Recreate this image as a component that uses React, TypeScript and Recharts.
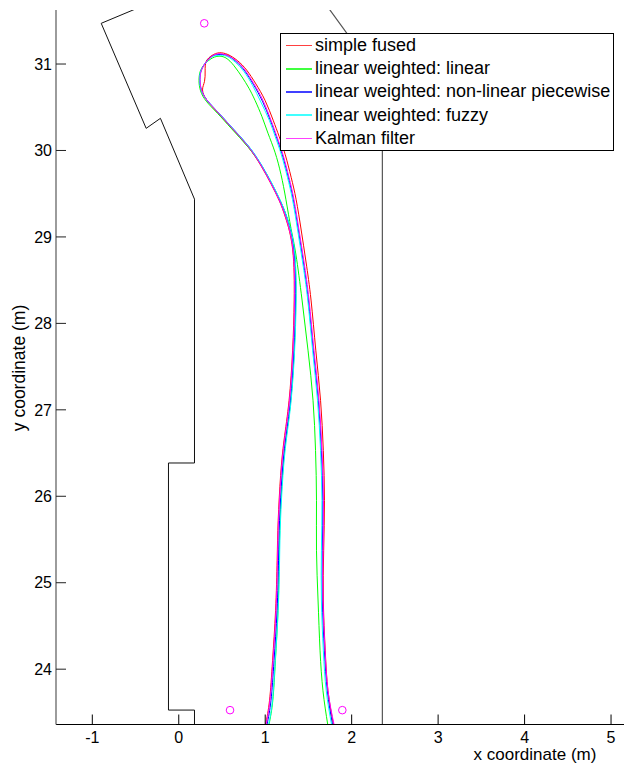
import React from 'react';
import { ComposedChart, Line, Scatter, XAxis, YAxis, Legend } from 'recharts';

const FONT = 'Arial, "Liberation Sans", Helvetica, sans-serif';

const xTicks = [-1, 0, 1, 2, 3, 4, 5];
const yTicks = [24, 25, 26, 27, 28, 29, 30, 31];
const xDomain: [number, number] = [-1.42, 5.15];
const yDomain: [number, number] = [23.36, 31.625];

const seriesNames = [
  'simple fused',
  'linear weighted: linear',
  'linear weighted: non-linear piecewise',
  'linear weighted: fuzzy',
  'Kalman filter',
];
const seriesColors = ['#ff0000', '#00ff00', '#0000ff', '#00ffff', '#ff00ff'];

const simpleFused: [number, number][] = [
  [1.004, 23.36], [1.050, 23.64], [1.085, 24.10], [1.120, 24.68], [1.138, 25.26], [1.150, 25.72],
  [1.178, 26.24], [1.218, 26.65], [1.276, 27.11], [1.317, 27.69], [1.335, 28.27], [1.318, 28.85],
  [1.236, 29.22], [1.162, 29.42], [1.069, 29.61], [0.953, 29.82], [0.804, 30.04], [0.620, 30.25],
  [0.458, 30.43], [0.327, 30.58], [0.275, 30.70], [0.298, 30.80], [0.305, 30.92], [0.318, 31.03],
  [0.385, 31.10], [0.468, 31.13], [0.568, 31.11], [0.678, 31.04], [0.785, 30.93], [0.892, 30.77],
  [0.998, 30.58], [1.092, 30.35], [1.162, 30.16], [1.232, 29.95], [1.300, 29.69], [1.358, 29.43],
  [1.416, 29.08], [1.472, 28.71], [1.530, 28.27], [1.585, 27.69], [1.640, 27.11], [1.672, 26.53],
  [1.685, 25.95], [1.676, 25.37], [1.672, 24.80], [1.694, 24.22], [1.726, 23.75], [1.790, 23.36],
];

const linearWeighted: [number, number][] = [
  [1.044, 23.36], [1.088, 23.64], [1.118, 24.10], [1.148, 24.68], [1.162, 25.26], [1.172, 25.72],
  [1.200, 26.24], [1.238, 26.65], [1.296, 27.11], [1.336, 27.69], [1.354, 28.27], [1.336, 28.85],
  [1.253, 29.22], [1.169, 29.43], [1.075, 29.62], [0.955, 29.83], [0.801, 30.04], [0.612, 30.25],
  [0.448, 30.43], [0.318, 30.57], [0.252, 30.69], [0.234, 30.81], [0.250, 30.92], [0.300, 31.00],
  [0.372, 31.06], [0.454, 31.09], [0.546, 31.07], [0.639, 30.98], [0.732, 30.85], [0.812, 30.72],
  [0.882, 30.58], [0.963, 30.39], [1.032, 30.20], [1.113, 29.98], [1.183, 29.72], [1.240, 29.43],
  [1.298, 29.10], [1.356, 28.79], [1.426, 28.27], [1.495, 27.69], [1.553, 27.11], [1.582, 26.53],
  [1.593, 25.95], [1.593, 25.37], [1.611, 24.80], [1.634, 24.22], [1.668, 23.75], [1.723, 23.36],
];

const nonLinearPiecewise: [number, number][] = [
  [1.021, 23.36], [1.067, 23.64], [1.102, 24.10], [1.137, 24.68], [1.154, 25.26], [1.166, 25.72],
  [1.195, 26.24], [1.235, 26.65], [1.293, 27.11], [1.333, 27.69], [1.351, 28.27], [1.333, 28.85],
  [1.252, 29.22], [1.166, 29.43], [1.072, 29.62], [0.956, 29.83], [0.806, 30.05], [0.620, 30.26],
  [0.457, 30.44], [0.328, 30.58], [0.262, 30.70], [0.244, 30.82], [0.261, 30.93], [0.313, 31.02],
  [0.383, 31.09], [0.465, 31.11], [0.560, 31.10], [0.662, 31.03], [0.764, 30.92], [0.866, 30.76],
  [0.968, 30.57], [1.059, 30.35], [1.128, 30.16], [1.198, 29.95], [1.267, 29.69], [1.325, 29.43],
  [1.383, 29.08], [1.441, 28.71], [1.499, 28.27], [1.556, 27.69], [1.614, 27.11], [1.649, 26.53],
  [1.666, 25.95], [1.660, 25.37], [1.660, 24.80], [1.684, 24.22], [1.718, 23.75], [1.778, 23.36],
];

const fuzzy: [number, number][] = [
  [1.040, 23.36], [1.084, 23.64], [1.116, 24.10], [1.150, 24.68], [1.166, 25.26], [1.177, 25.72],
  [1.205, 26.24], [1.244, 26.65], [1.300, 27.11], [1.340, 27.69], [1.357, 28.27], [1.338, 28.85],
  [1.254, 29.22], [1.171, 29.43], [1.077, 29.62], [0.959, 29.83], [0.809, 30.05], [0.622, 30.26],
  [0.458, 30.44], [0.328, 30.58], [0.260, 30.70], [0.242, 30.82], [0.258, 30.93], [0.310, 31.01],
  [0.380, 31.08], [0.462, 31.10], [0.555, 31.09], [0.655, 31.02], [0.756, 30.91], [0.855, 30.75],
  [0.950, 30.56], [1.047, 30.35], [1.116, 30.16], [1.187, 29.95], [1.257, 29.69], [1.316, 29.43],
  [1.375, 29.08], [1.432, 28.71], [1.492, 28.27], [1.548, 27.69], [1.605, 27.11], [1.640, 26.53],
  [1.656, 25.95], [1.650, 25.37], [1.650, 24.80], [1.672, 24.22], [1.706, 23.75], [1.767, 23.36],
];

const kalman: [number, number][] = [
  [1.009, 23.36], [1.055, 23.64], [1.090, 24.10], [1.125, 24.68], [1.142, 25.26], [1.154, 25.72],
  [1.183, 26.24], [1.223, 26.65], [1.281, 27.11], [1.321, 27.69], [1.339, 28.27], [1.321, 28.85],
  [1.240, 29.22], [1.160, 29.43], [1.067, 29.62], [0.951, 29.83], [0.801, 30.05], [0.616, 30.26],
  [0.454, 30.44], [0.327, 30.58], [0.263, 30.70], [0.246, 30.82], [0.263, 30.93], [0.315, 31.02],
  [0.385, 31.09], [0.465, 31.12], [0.558, 31.10], [0.662, 31.04], [0.766, 30.93], [0.870, 30.77],
  [0.974, 30.58], [1.067, 30.35], [1.136, 30.16], [1.206, 29.95], [1.275, 29.69], [1.333, 29.43],
  [1.391, 29.08], [1.449, 28.71], [1.507, 28.27], [1.564, 27.69], [1.622, 27.11], [1.657, 26.53],
  [1.674, 25.95], [1.668, 25.37], [1.668, 24.80], [1.692, 24.22], [1.726, 23.75], [1.796, 23.36],
];

const leftWall: [number, number][] = [
  [-0.445, 31.66], [-0.897, 31.471], [-0.377, 30.256], [-0.212, 30.372], [0.182, 29.437],
  [0.182, 26.385], [-0.119, 26.385], [-0.119, 23.527], [0.182, 23.527], [0.182, 23.36],
];
const rightWall: [number, number][] = [
  [1.716, 31.67], [2.355, 30.79], [2.355, 23.36],
];
const anchors: [number, number][] = [
  [0.295, 31.471], [0.593, 23.526], [1.892, 23.526],
];

const toPts = (arr: [number, number][]) => arr.map(([x, y]) => ({ x, y }));
const seriesData = [simpleFused, linearWeighted, nonLinearPiecewise, fuzzy, kalman].map(toPts);

const XTick = (props: any) => {
  const { x, y, payload } = props;
  return (
    <g>
      <line x1={x} x2={x} y1={y} y2={y - 10} stroke="#000" strokeWidth={1} />
      <text x={x} y={y + 18.5} textAnchor="middle" fontSize={16} fontFamily={FONT} fill="#000">
        {payload.value}
      </text>
    </g>
  );
};

const YTick = (props: any) => {
  const { x, y, payload } = props;
  return (
    <g>
      <line x1={x} x2={x + 10} y1={y} y2={y} stroke="#222" strokeWidth={1} />
      <text x={x - 4} y={y + 5.7} textAnchor="end" fontSize={16} fontFamily={FONT} fill="#000">
        {payload.value}
      </text>
    </g>
  );
};

const renderLegend = () => (
  <div
    style={{
      boxSizing: 'border-box',
      width: 334,
      height: 118,
      border: '1px solid #000',
      background: '#fff',
    }}
  >
    {seriesNames.map((name, i) => (
      <div key={name} style={{ height: 23.2, display: 'flex', alignItems: 'center' }}>
        <div
          style={{
            width: 26,
            height: 1.5,
            marginLeft: 5,
            marginRight: 3,
            background: seriesColors[i],
            opacity: 0.75,
            flex: 'none',
          }}
        />
        <span
          style={{
            fontSize: 18,
            fontFamily: FONT,
            color: '#000',
            lineHeight: '23.2px',
            whiteSpace: 'nowrap',
          }}
        >
          {name}
        </span>
      </div>
    ))}
  </div>
);

export default function App() {
  return (
    <div style={{ position: 'absolute', left: 0, top: 0, background: '#fff' }}>
      <ComposedChart width={624} height={770} margin={{ top: 10, right: 0, bottom: 0, left: 0 }}>
        <XAxis
          type="number"
          dataKey="x"
          domain={xDomain}
          ticks={xTicks}
          interval={0}
          allowDataOverflow
          height={45.5}
          tickSize={0}
          tickMargin={0}
          tickLine={false}
          axisLine={{ stroke: '#000', strokeWidth: 1 }}
          tick={<XTick />}
          label={() => (
            <text x={535} y={760} textAnchor="middle" fontSize={17} fontFamily={FONT} fill="#000">
              x coordinate (m)
            </text>
          )}
        />
        <YAxis
          type="number"
          dataKey="y"
          domain={yDomain}
          ticks={yTicks}
          interval={0}
          allowDataOverflow
          width={56}
          tickSize={0}
          tickMargin={0}
          tickLine={false}
          axisLine={{ stroke: '#666', strokeWidth: 1.3 }}
          tick={<YTick />}
          label={() => (
            <text
              x={25}
              y={368}
              transform="rotate(-90, 25, 368)"
              textAnchor="middle"
              fontSize={17.5}
              fontFamily={FONT}
              fill="#000"
            >
              y coordinate (m)
            </text>
          )}
        />
        <Line
          data={toPts(leftWall)}
          dataKey="y"
          type="linear"
          stroke="#111"
          strokeWidth={1}
          dot={false}
          activeDot={false}
          legendType="none"
          isAnimationActive={false}
        />
        <Line
          data={toPts(rightWall)}
          dataKey="y"
          type="linear"
          stroke="#555"
          strokeWidth={1.2}
          dot={false}
          activeDot={false}
          legendType="none"
          isAnimationActive={false}
        />
        {seriesData.map((d, i) => (
          <Line
            key={seriesNames[i]}
            name={seriesNames[i]}
            data={d}
            dataKey="y"
            type="natural"
            stroke={seriesColors[i]}
            strokeWidth={1}
            dot={false}
            activeDot={false}
            isAnimationActive={false}
          />
        ))}
        <Scatter
          data={toPts(anchors)}
          dataKey="y"
          legendType="none"
          isAnimationActive={false}
          shape={(p: any) => (
            <circle cx={p.cx} cy={p.cy} r={3.8} fill="none" stroke="#ff00ff" strokeWidth={1} />
          )}
        />
        <Legend
          layout="vertical"
          align="center"
          verticalAlign="middle"
          wrapperStyle={{ position: 'absolute', left: 280, top: 33, width: 334, height: 118, margin: 0, padding: 0 }}
          content={renderLegend}
        />
      </ComposedChart>
    </div>
  );
}
